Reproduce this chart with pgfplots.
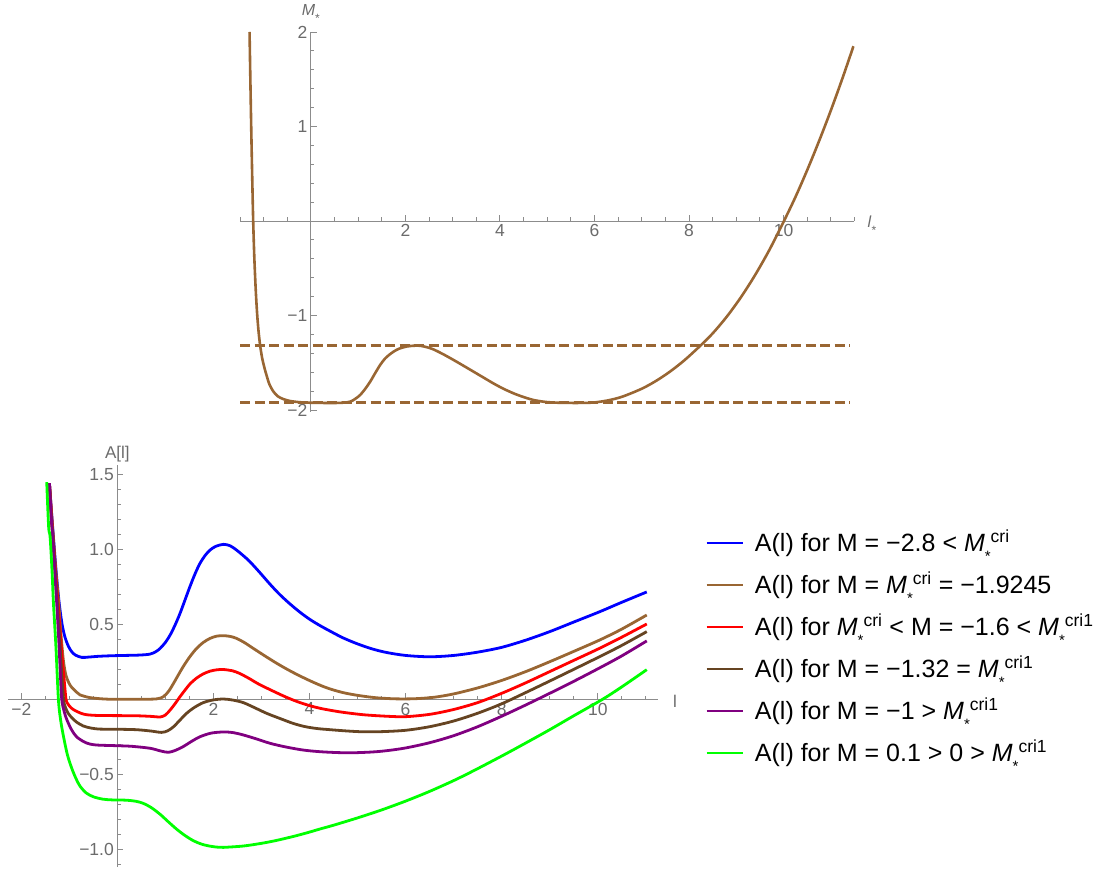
\documentclass[border=0pt]{standalone}
\usepackage{pgfplots}
\pgfplotsset{compat=1.18}
\usepackage{fontspec}
\setmainfont{Liberation Sans}
\definecolor{mbrown}{rgb}{0.6,0.4,0.2}
\definecolor{mdbrown}{rgb}{0.4,0.267,0.133}
\definecolor{mpurple}{rgb}{0.5,0,0.5}
\definecolor{mgreen}{rgb}{0,1,0}
\definecolor{axgray}{rgb}{0.55,0.55,0.55}
\definecolor{lbgray}{rgb}{0.42,0.42,0.42}
\newcommand{\Ms}[1]{\textit{M}\raisebox{-0.38em}{\fontsize{15}{15}\selectfont *}\textsuperscript{#1}}
\pgfplotsset{mstyle/.style={
  scale only axis, axis lines=middle,
  axis line style={-, draw=axgray, line width=0.9pt},
  tick align=inside, major tick length=6pt, minor tick length=3.5pt,
  every tick/.style={draw=axgray, line width=0.9pt},
  tick label style={font=\fontsize{17.5}{20}\selectfont, text=lbgray},
  /pgf/number format/assume math mode=true,
}}
\begin{document}
\begin{tikzpicture}
\useasboundingbox (0,0) rectangle (1109pt,869pt);
% ---------------- top axis ----------------
\begin{axis}[mstyle, at={(240pt,457.1pt)}, anchor=south west,
  width=614.4pt, height=379.9pt,
  xmin=-1.5, xmax=11.5, ymin=-2.02, ymax=2,
  xtick={2,4,6,8,10}, xticklabels={2,4,6,8,10},
  ytick={-2,-1,1,2}, yticklabels={−2,−1,1,2},
  minor xtick={-1.5,-1,...,11.5}, minor ytick={-2,-1.8,...,2},
  every axis x label/.style={at={(axis description cs:1,0.5025)}, anchor=base west, xshift=13pt, yshift=-7pt, inner sep=0pt, text=lbgray, font=\fontsize{16}{18}\selectfont},
  every axis y label/.style={at={(axis description cs:0.1154,1)}, anchor=base, yshift=16pt, inner sep=0pt, text=lbgray, font=\fontsize{16}{18}\selectfont},
  xlabel={\textit{l}\raisebox{-0.38em}{\fontsize{12}{12}\selectfont *}},
  ylabel={\textit{M}\raisebox{-0.38em}{\fontsize{12}{12}\selectfont *}},
]
\addplot[mbrown, line width=2.8pt, dash pattern=on 10pt off 4.5pt] coordinates {(-1.5,-1.32) (11.41,-1.32)};
\addplot[mbrown, line width=2.8pt, dash pattern=on 10pt off 4.5pt] coordinates {(-1.5,-1.9245) (11.41,-1.9245)};
\addplot[mbrown, line width=2.6pt, smooth] coordinates {
(-1.298,2.0) (-1.281,1.5) (-1.263,1.0) (-1.243,0.5) (-1.221,0.0) (-1.196,-0.4)
(-1.165,-0.75) (-1.135,-1.0) (-1.105,-1.18) (-1.073,-1.32) (-1.035,-1.44) (-0.99,-1.54)
(-0.94,-1.63) (-0.88,-1.725) (-0.8,-1.80) (-0.7,-1.855) (-0.58,-1.885) (-0.438,-1.905)
(-0.25,-1.917) (-0.085,-1.922) (0.2,-1.925) (0.5,-1.926) (0.7,-1.922) (0.83,-1.912)
(0.93,-1.885) (1.043,-1.841) (1.15,-1.776) (1.255,-1.70) (1.36,-1.61) (1.466,-1.523)
(1.57,-1.455) (1.68,-1.407) (1.79,-1.37) (1.89,-1.347) (2.03,-1.328) (2.17,-1.320)
(2.24,-1.319) (2.31,-1.320) (2.45,-1.335) (2.59,-1.358) (2.8,-1.41) (3.02,-1.471)
(3.23,-1.532) (3.44,-1.594) (3.65,-1.656) (3.86,-1.718) (4.07,-1.774) (4.29,-1.824)
(4.5,-1.863) (4.71,-1.894) (4.92,-1.912) (5.13,-1.921) (5.4,-1.925) (5.77,-1.925)
(6.0,-1.920) (6.3,-1.897) (6.6,-1.857) (7.0,-1.775) (7.3,-1.693) (7.6,-1.593)
(7.9,-1.475) (8.24,-1.32) (8.5,-1.19) (8.8,-1.012) (9.1,-0.806) (9.4,-0.571)
(9.7,-0.307) (10.0,-0.01) (10.25,0.251) (10.5,0.537) (10.75,0.843) (11.0,1.168)
(11.25,1.514) (11.48,1.85)};
\end{axis}
% ---------------- bottom axis ----------------
\begin{axis}[mstyle, at={(8.3pt,2.3pt)}, anchor=south west,
  width=650pt, height=401.7pt,
  xmin=-2.27, xmax=11.26, ymin=-1.118, ymax=1.565,
  xtick={-2,2,4,6,8,10}, xticklabels={−2,2,4,6,8,10},
  ytick={-1,-0.5,0.5,1,1.5}, yticklabels={−1.0,−0.5,0.5,1.0,1.5},
  minor xtick={-2,-1.5,...,11}, minor ytick={-1.1,-1,...,1.5},
  every axis x label/.style={at={(axis description cs:1,0.4167)}, anchor=base west, xshift=14.7pt, yshift=-7.7pt, inner sep=0pt, text=lbgray, font=\fontsize{17}{19}\selectfont},
  every axis y label/.style={at={(axis description cs:0.1678,1)}, anchor=base, yshift=6pt, inner sep=0pt, text=lbgray, font=\fontsize{17}{19}\selectfont},
  xlabel={l}, ylabel={A[l]},
  legend style={at={(axis description cs:1.0718,0.8414)}, anchor=north west, draw=none, fill=none,
    inner xsep=0pt, inner ysep=0pt, row sep=14pt, column sep=11pt,
    font=\fontsize{25}{27}\selectfont,
    nodes={inner sep=0pt, text height=23pt, text depth=5pt}},
  legend cell align=left,
  legend image code/.code={\draw[#1] (0pt,0pt) -- (36pt,0pt);},
]
\addplot[blue, line width=2.8pt, smooth] coordinates {
(-1.414,1.443) (-1.37,1.25) (-1.33,1.08) (-1.27,0.84) (-1.21,0.641) (-1.15,0.50)
(-1.09,0.415) (-1.02,0.355) (-0.95,0.318) (-0.87,0.295) (-0.74,0.280) (-0.6,0.282)
(-0.4,0.287) (-0.2,0.290) (0,0.292) (0.3,0.294) (0.5,0.296) (0.68,0.302) (0.8,0.318)
(0.89,0.34) (1.0,0.38) (1.10,0.43) (1.2,0.495) (1.305,0.574) (1.41,0.665) (1.51,0.752)
(1.62,0.84) (1.72,0.908) (1.83,0.962) (1.93,0.997) (2.05,1.022) (2.21,1.035) (2.35,1.025)
(2.48,0.997) (2.62,0.96) (2.76,0.919) (2.97,0.845) (3.18,0.768) (3.38,0.700) (3.59,0.638)
(3.8,0.582) (4.01,0.533) (4.22,0.492) (4.43,0.455) (4.7,0.41) (5.0,0.37) (5.3,0.337)
(5.6,0.313) (6.0,0.293) (6.5,0.284) (7.0,0.293) (7.5,0.315) (8.0,0.347) (8.5,0.395)
(9.0,0.452) (9.5,0.516) (10.04,0.585) (10.5,0.648) (11.02,0.717)};
\addlegendentry{A(l) for M = −2.8 < \Ms{cri}}
\addplot[mbrown, line width=2.8pt, smooth] coordinates {
(-1.414,1.443) (-1.37,1.24) (-1.335,1.086) (-1.28,0.85) (-1.22,0.641) (-1.17,0.42)
(-1.12,0.25) (-1.07,0.16) (-1.01,0.11) (-0.95,0.08) (-0.85,0.048) (-0.78,0.030)
(-0.6,0.013) (-0.4,0.005) (-0.2,0.001) (0,0) (0.5,0.0) (0.82,0.003) (0.96,0.018)
(1.07,0.055) (1.17,0.107) (1.27,0.163) (1.37,0.218) (1.51,0.285) (1.65,0.34) (1.79,0.38)
(1.93,0.407) (2.07,0.422) (2.21,0.425) (2.35,0.42) (2.48,0.407) (2.65,0.378) (2.83,0.34)
(3.07,0.29) (3.32,0.240) (3.56,0.196) (3.80,0.156) (4.05,0.118) (4.29,0.085) (4.5,0.062)
(4.75,0.041) (5.05,0.024) (5.4,0.010) (5.8,0.003) (6.2,0.004) (6.6,0.014) (7.0,0.036)
(7.5,0.076) (8.0,0.126) (8.5,0.185) (9.0,0.251) (9.5,0.32) (10.04,0.396) (10.5,0.469)
(11.02,0.563)};
\addlegendentry{A(l) for M = \Ms{cri} = −1.9245}
\addplot[red, line width=2.8pt, smooth] coordinates {
(-1.414,1.443) (-1.37,1.23) (-1.34,1.086) (-1.285,0.85) (-1.234,0.641) (-1.19,0.45)
(-1.15,0.28) (-1.11,0.14) (-1.068,0.0) (-1.02,-0.035) (-0.96,-0.058) (-0.88,-0.075)
(-0.76,-0.093) (-0.64,-0.103) (-0.4,-0.108) (0,-0.109) (0.4,-0.11) (0.7,-0.114)
(0.89,-0.118) (1.0,-0.105) (1.10,-0.071) (1.2,-0.03) (1.305,0.018) (1.41,0.062)
(1.51,0.102) (1.65,0.142) (1.79,0.170) (1.93,0.188) (2.07,0.197) (2.21,0.199) (2.4,0.19)
(2.55,0.172) (2.75,0.138) (2.97,0.097) (3.46,0.022) (3.75,-0.016) (4.01,-0.043)
(4.22,-0.06) (4.43,-0.073) (4.7,-0.087) (5.12,-0.103) (5.6,-0.113) (6.0,-0.116)
(6.51,-0.1) (7.0,-0.068) (7.5,-0.022) (8.0,0.04) (8.5,0.11) (9.0,0.185) (9.5,0.26)
(10.04,0.341) (10.5,0.415) (11.02,0.503)};
\addlegendentry{A(l) for \Ms{cri} < M = −1.6 < \Ms{cri1}}
\addplot[mdbrown, line width=2.8pt, smooth] coordinates {
(-1.414,1.443) (-1.37,1.2) (-1.34,1.086) (-1.29,0.84) (-1.248,0.641) (-1.2,0.40)
(-1.16,0.18) (-1.12,0.0) (-1.08,-0.055) (-1.02,-0.095) (-0.95,-0.122) (-0.85,-0.152)
(-0.71,-0.178) (-0.55,-0.192) (-0.36,-0.199) (0,-0.2) (0.4,-0.203) (0.7,-0.212)
(0.92,-0.221) (1.05,-0.21) (1.17,-0.183) (1.3,-0.14) (1.44,-0.094) (1.6,-0.055)
(1.79,-0.022) (2.0,-0.004) (2.21,0.002) (2.4,-0.005) (2.62,-0.022) (2.85,-0.055)
(3.11,-0.094) (3.4,-0.13) (3.66,-0.161) (3.9,-0.182) (4.15,-0.195) (4.43,-0.203)
(4.8,-0.212) (5.12,-0.217) (5.5,-0.216) (6.0,-0.207) (6.5,-0.183) (7.0,-0.145)
(7.5,-0.093) (8.0,-0.03) (8.5,0.045) (9.0,0.122) (9.5,0.2) (10.04,0.285) (10.5,0.36)
(11.02,0.452)};
\addlegendentry{A(l) for M = −1.32 = \Ms{cri1}}
\addplot[mpurple, line width=2.8pt, smooth] coordinates {
(-1.414,1.443) (-1.37,1.18) (-1.345,1.086) (-1.30,0.84) (-1.262,0.641) (-1.22,0.40)
(-1.19,0.2) (-1.158,0.0) (-1.10,-0.09) (-1.04,-0.145) (-0.95,-0.205) (-0.85,-0.25)
(-0.7,-0.283) (-0.57,-0.299) (-0.4,-0.306) (0,-0.310) (0.3,-0.314) (0.68,-0.327)
(0.9,-0.345) (1.06,-0.354) (1.2,-0.342) (1.37,-0.316) (1.55,-0.28) (1.72,-0.25)
(1.95,-0.226) (2.21,-0.218) (2.42,-0.223) (2.62,-0.238) (2.9,-0.265) (3.18,-0.294)
(3.5,-0.318) (3.87,-0.339) (4.22,-0.350) (4.6,-0.356) (4.91,-0.357) (5.3,-0.352)
(5.61,-0.343) (6.0,-0.325) (6.5,-0.29) (7.0,-0.243) (7.5,-0.183) (8.0,-0.113)
(8.5,-0.038) (9.0,0.04) (9.5,0.12) (10.04,0.21) (10.5,0.29) (11.02,0.39)};
\addlegendentry{A(l) for M = −1 > \Ms{cri1}}
\addplot[mgreen, line width=2.8pt, smooth] coordinates {
(-1.47,1.45) (-1.43,1.15) (-1.40,1.086) (-1.36,0.86) (-1.33,0.641) (-1.28,0.36)
(-1.227,0.0) (-1.18,-0.14) (-1.12,-0.25) (-1.04,-0.37) (-0.95,-0.46) (-0.86,-0.53)
(-0.777,-0.58) (-0.65,-0.625) (-0.5,-0.651) (-0.3,-0.667) (-0.1,-0.672) (0.2,-0.674)
(0.4,-0.682) (0.54,-0.695) (0.7,-0.722) (0.89,-0.768) (1.05,-0.815) (1.24,-0.869)
(1.4,-0.908) (1.58,-0.944) (1.75,-0.967) (1.93,-0.981) (2.1,-0.988) (2.21,-0.989)
(2.62,-0.980) (3.0,-0.962) (3.32,-0.942) (3.7,-0.913) (4.01,-0.886) (4.22,-0.866)
(4.5,-0.841) (5.0,-0.792) (5.5,-0.739) (6.0,-0.680) (6.5,-0.615) (7.0,-0.543)
(7.41,-0.478) (8.03,-0.374) (8.5,-0.292) (9.0,-0.203) (9.5,-0.11) (10.1,0.0)
(10.5,0.083) (11.02,0.198)};
\addlegendentry{A(l) for M = 0.1 > 0 > \Ms{cri1}}
\end{axis}
\end{tikzpicture}
\end{document}
